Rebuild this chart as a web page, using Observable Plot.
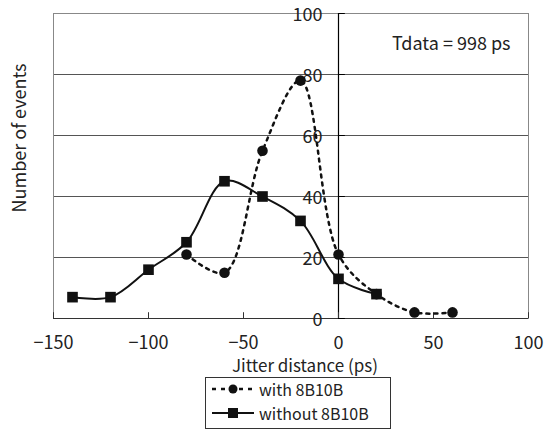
<!DOCTYPE html>
<html>
<head>
<meta charset="utf-8">
<script src="https://cdn.jsdelivr.net/npm/d3@7"></script>
<script src="https://cdn.jsdelivr.net/npm/@observablehq/plot@0.6"></script>
<style>
  html, body { margin: 0; padding: 0; background: #fff; }
  body { font-family: "Noto Sans CJK JP", "Noto Sans", sans-serif; color: #222; }
  #wrap { position: relative; width: 554px; height: 443px; }
  #legend { position: absolute; left: 205px; top: 377px; width: 184px; height: 50px;
            border: 1px solid #333; background: #fff; font-size: 16px; line-height: 16px; }
  .row { position: absolute; left: 5px; height: 16px; display: flex; align-items: center; white-space: nowrap; }
  .row svg { display: block; margin-right: 4px; }
  .row span { display: block; line-height: 16px; height: 16px; }
</style>
</head>
<body>
<div id="wrap"></div>
<script>
// Series values
const xWith = [-80, -60, -40, -20, 0, 20, 40, 60];
const yWith = [21, 15, 55, 78, 21, 8, 2, 2];
const xWithout = [-140, -120, -100, -80, -60, -40, -20, 0, 20];
const yWithout = [7, 7, 16, 25, 45, 40, 32, 13, 8];
const seriesNames = ["with 8B10B", "without 8B10B"];

// Axis ticks
const xTicks = [-150, -100, -50, 0, 50, 100];
const yTicks = [0, 20, 40, 60, 80, 100];
const yGrid = [20, 40, 60, 80, 100];
const annotation = "Tdata = 998 ps";
const xLabel = "Jitter distance (ps)";
const yLabel = "Number of events";

const withData = xWith.map((x, i) => ({x, y: yWith[i]}));
const withoutData = xWithout.map((x, i) => ({x, y: yWithout[i]}));

const FS = 18;
const chart = Plot.plot({
  width: 554,
  height: 377,
  marginTop: 13,
  marginLeft: 53,
  marginRight: 26,
  marginBottom: 59,
  style: {fontFamily: '"Noto Sans CJK JP", "Noto Sans", sans-serif', fontSize: FS + "px", color: "#222", background: "#fff"},
  x: {domain: [-150, 100], ticks: xTicks, label: null},
  y: {domain: [0, 100], axis: null},
  marks: [
    Plot.ruleY(yGrid, {stroke: "#555", strokeWidth: 1}),
    Plot.frame({stroke: "#888"}),
    Plot.ruleY([0], {stroke: "#333", strokeWidth: 1.2}),
    Plot.ruleX([0], {stroke: "#000", strokeWidth: 1.2}),
    Plot.ruleX(xTicks, {y1: 0, y2: 1.9, stroke: "#333"}),
    Plot.ruleY(yTicks, {x1: 0, x2: 3.6, stroke: "#000"}),
    Plot.axisX({ticks: xTicks, tickSize: 0, tickPadding: 18, fontSize: FS, tickFormat: d3.format("")}),
    Plot.text(yTicks, {x: 0, y: d => d, dx: -16, dy: 2, textAnchor: "end", fontSize: FS, fill: "#222"}),
    Plot.text([annotation], {frameAnchor: "top-right", dx: -18, dy: 31, textAnchor: "end", lineAnchor: "middle", fontSize: FS, fill: "#222"}),
    Plot.text([xLabel], {frameAnchor: "bottom", dx: 14, dy: 48.5, lineAnchor: "middle", fontSize: 17, fill: "#222"}),
    Plot.text([yLabel], {frameAnchor: "left", dx: -33, dy: -28, rotate: -90, textAnchor: "middle", fontSize: FS, fill: "#222"}),
    Plot.line(withData, {x: "x", y: "y", curve: "catmull-rom", stroke: "#111", strokeWidth: 2.5, strokeDasharray: "3,5"}),
    Plot.dot(withData, {x: "x", y: "y", r: 5.3, fill: "#111", stroke: "none"}),
    Plot.line(withoutData, {x: "x", y: "y", curve: "catmull-rom", stroke: "#111", strokeWidth: 2}),
    Plot.dot(withoutData, {x: "x", y: "y", symbol: "square", r: 6, fill: "#111", stroke: "none"})
  ]
});
const wrap = document.getElementById("wrap");
wrap.appendChild(chart);

// Legend below the plot
const legend = document.createElement("div");
legend.id = "legend";
const samples = [
  `<svg width="44" height="14"><line x1="1" y1="7" x2="43" y2="7" stroke="#111" stroke-width="2.5" stroke-dasharray="4,5"/><circle cx="22" cy="7" r="4.5" fill="#111"/></svg>`,
  `<svg width="44" height="14"><line x1="1" y1="7" x2="43" y2="7" stroke="#111" stroke-width="2"/><rect x="17" y="2" width="10" height="10" fill="#111"/></svg>`
];
seriesNames.forEach((name, i) => {
  const row = document.createElement("div");
  row.className = "row";
  row.style.top = (i === 0 ? 3 : 27) + "px";
  row.innerHTML = samples[i] + `<span>${name}</span>`;
  legend.appendChild(row);
});
wrap.appendChild(legend);
</script>
</body>
</html>
